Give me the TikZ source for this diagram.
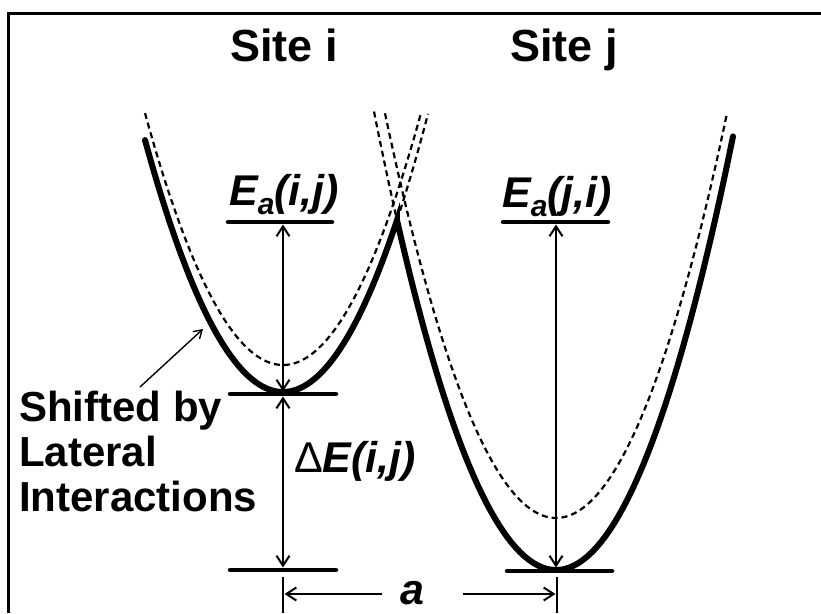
\documentclass[tikz,border=0pt]{standalone}
\usepackage{fontspec}
\setmainfont{Liberation Sans}
\usetikzlibrary{arrows.meta}
\newcommand{\lowsub}[1]{\raisebox{-0.22em}{\fontsize{30}{30}\selectfont #1}}

\begin{document}
\begin{tikzpicture}[x=1pt,y=-1pt,
well/.style={line width=6pt,line cap=round,line join=miter},
ghost/.style={line width=2.2pt,dash pattern=on 6pt off 4pt},
level/.style={line width=4.5pt,line cap=round},
span/.style={{Straight Barb[length=10pt,width=13pt]}-{Straight Barb[length=10pt,width=13pt]},line width=2pt,shorten <=2.5pt,shorten >=2.5pt},
dimline/.style={-{Straight Barb[length=10pt,width=13pt]},line width=2pt,shorten >=1.5pt},
ticklin/.style={line width=2.8pt},
pointer/.style={-{Straight Barb[length=8pt,width=10pt]},line width=1.4pt},
big/.style={font=\fontsize{45}{50}\selectfont\bfseries,inner sep=0pt},
bigit/.style={font=\fontsize{43}{48}\selectfont\bfseries\itshape,inner sep=0pt}
]
\useasboundingbox (0,0) rectangle (821,613);
\draw[line width=3pt] (8,613) -- (8,13) -- (821,13);

% shifted (dashed) and original (solid) wells
\draw[ghost] plot[domain=145:421,samples=80] (\x,{365-132.3*((\x-283)/100)^2});
\draw[ghost] plot[domain=385:727,samples=80] (\x,{518-138.4*((\x-556)/100)^2});
\draw[ghost] plot[domain=397:428,samples=10] (\x,{392-132.3*((\x-283)/100)^2});
\draw[ghost] plot[domain=374:397,samples=10] (\x,{570-138.4*((\x-556)/100)^2});
\draw[well] plot[domain=145:397,samples=80] (\x,{392-132.3*((\x-283)/100)^2})
  -- plot[domain=397:733,samples=80] (\x,{570-138.4*((\x-556)/100)^2});

\coordinate (barrierI) at (283,222);
\coordinate (wellI) at (283,394);
\coordinate (groundI) at (283,570);
\coordinate (barrierJ) at (556,222);
\coordinate (wellJ) at (556,570);

\draw[level] (228,222) -- (332,222);
\draw[level] (230,394) -- (336,394);
\draw[level] (230,570) -- (336,570);
\draw[level] (503,222) -- (608,222);
\draw[level] (507,571) -- (612,571);

\draw[span] (barrierI) -- (wellI);
\draw[span] (wellI) -- (groundI);
\draw[span] (barrierJ) -- (wellJ);

\coordinate (tickI) at (283,577);
\coordinate (tickIb) at (283,613);
\coordinate (tickJ) at (557,577);
\coordinate (tickJb) at (557,613);
\draw[ticklin] (tickI) -- (tickIb);
\draw[ticklin] (tickJ) -- (tickJb);

\node[bigit,anchor=base] (alab) at (412,604) {a};
\coordinate (aL) at (382,594);
\coordinate (aR) at (463,594);
\draw[dimline] (aL) -- (tickI |- aL);
\draw[dimline] (aR) -- (tickJ |- aR);

\node[big,anchor=base] (siteI) at (284,61) {Site i};
\node[big,anchor=base] (siteJ) at (564,61) {Site j};
\node[bigit,anchor=base] (eaIJ) at (284,205) {E\lowsub{a}(i,j)};
\node[bigit,anchor=base] (eaJI) at (557,207) {E\lowsub{a}(j,i)};
\node[bigit,anchor=base] (dEIJ) at (355,472) {{\mdseries\upshape Δ}E(i,j)};

\node[font=\fontsize{42}{45}\selectfont\bfseries,align=left,anchor=north west,inner sep=0pt] (shifted) at (19,391) {Shifted by\\Lateral\\Interactions};
\coordinate (shTail) at (140,387);
\coordinate (shTip) at (203,329);
\draw[pointer] (shTail) -- (shTip);
\end{tikzpicture}
\end{document}
